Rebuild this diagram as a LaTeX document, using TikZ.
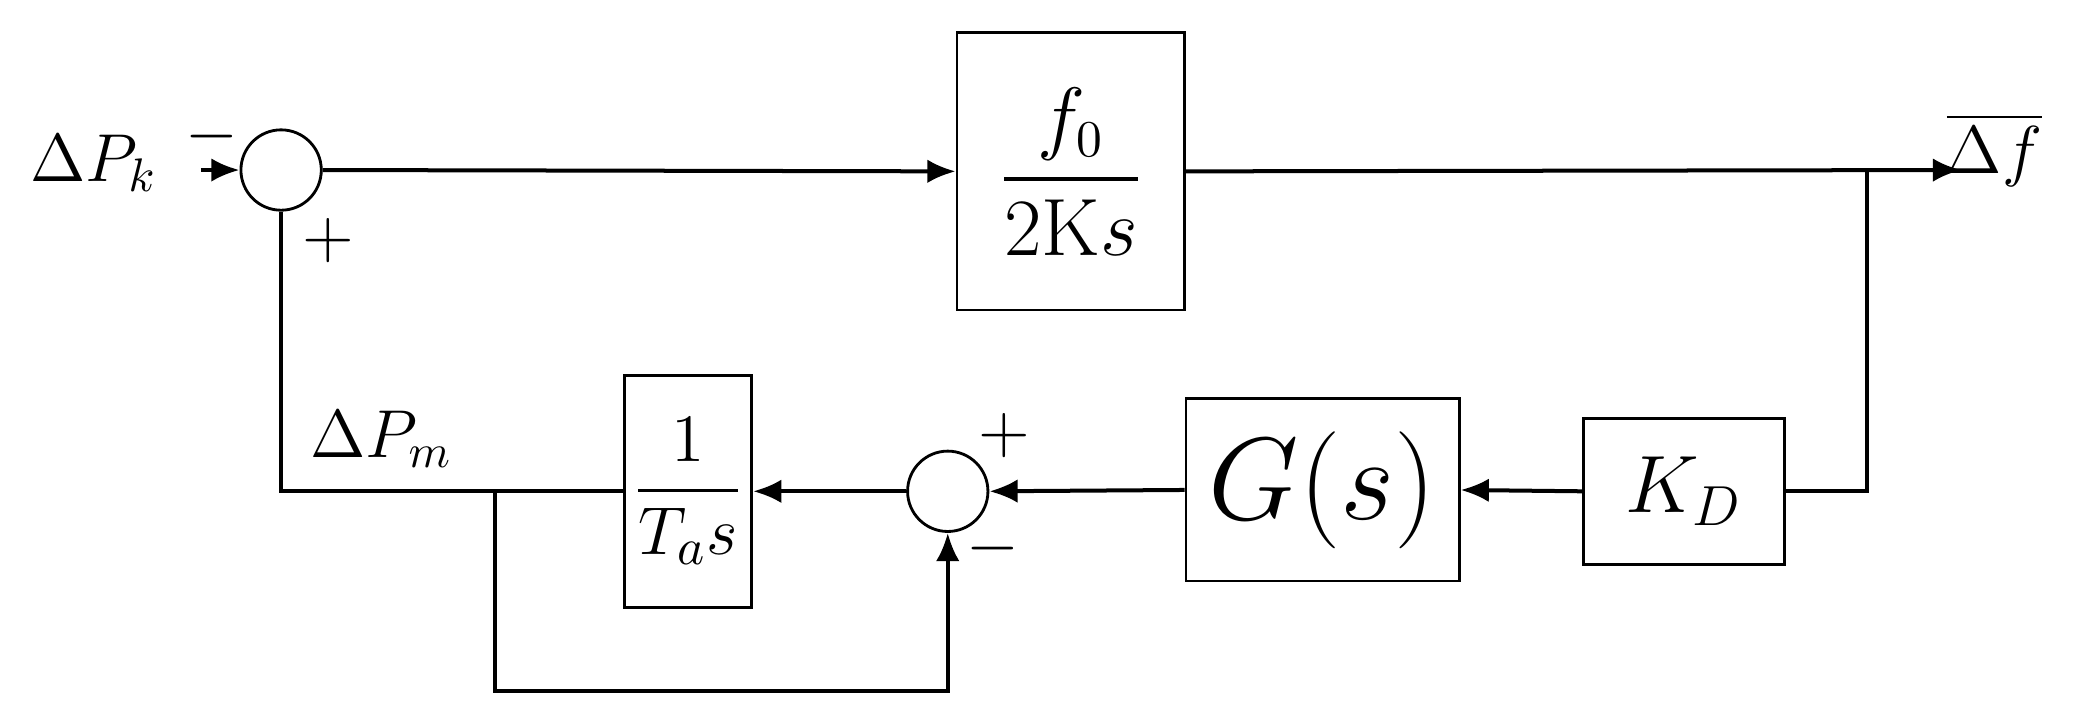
\documentclass[tikz,border=0pt]{standalone}
\usepackage{amsmath}
\usetikzlibrary{arrows.meta}
\begin{document}
\begin{tikzpicture}[x=0.01cm,y=-0.01cm,line width=0.85pt,
 blk/.style={draw,line width=0.6pt,inner sep=0pt},
 sm/.style={draw,circle,line width=0.6pt,minimum size=0.6cm,inner sep=0pt},
 ar/.style={-{Latex[length=6pt,width=5pt]}},
 lbl/.style={font=\fontsize{15}{18}\selectfont},
 big/.style={font=\fontsize{14}{17}\selectfont}]
\useasboundingbox (0,0) rectangle (1568,541);
\node[sm] (s1) at (210,127) {};
\node[blk,minimum width=1.7cm,minimum height=2.07cm] (f) at (800,128) {};
\node[font=\fontsize{16}{19}\selectfont] at (f) {$\dfrac{f_0}{2\mathrm{K}s}$};
\node[blk,minimum width=1.5cm,minimum height=1.09cm] (kd) at (1258,367) {\fontsize{17}{20}\selectfont$K_D$};
\node[blk,minimum width=2.04cm,minimum height=1.36cm] (g) at (988,366) {\fontsize{25}{30}\selectfont$G(s)$};
\node[sm] (s2) at (708,367) {};
\node[blk,minimum width=0.95cm,minimum height=1.73cm] (t) at (514,367) {};
\node[font=\fontsize{15}{18}\selectfont] at (t) {$\dfrac{1}{T_a s}$};
\node[big] (pk) at (70,122) {$\Delta P_k$};
\node[big] (df) at (1490,112) {$\overline{\Delta f}$};
\node[big] (pm) at (285,328) {$\Delta P_m$};
\node[lbl] at (158,102) {$-$};
\node[lbl] at (245,180) {$+$};
\node[lbl] at (750,325) {$+$};
\node[lbl] at (742,410) {$-$};
\coordinate (in) at (150,127);
\coordinate (br) at (1395,127);
\coordinate (fb) at (370,367);
\coordinate (out) at (1465,127);
\draw[ar] (in) -- (s1.west);
\draw[ar] (s1.east) -- (f.west);
\draw[ar] (f.east) -- (out);
\draw (br) |- (kd.east);
\draw[ar] (kd.west) -- (g.east);
\draw[ar] (g.west) -- (s2.east);
\draw[ar] (s2.west) -- (t.east);
\draw (t.west) -- (210,367) -- (s1.south);
\draw[ar] (fb) -- (370,516) -| (s2.south);
\end{tikzpicture}
\end{document}
